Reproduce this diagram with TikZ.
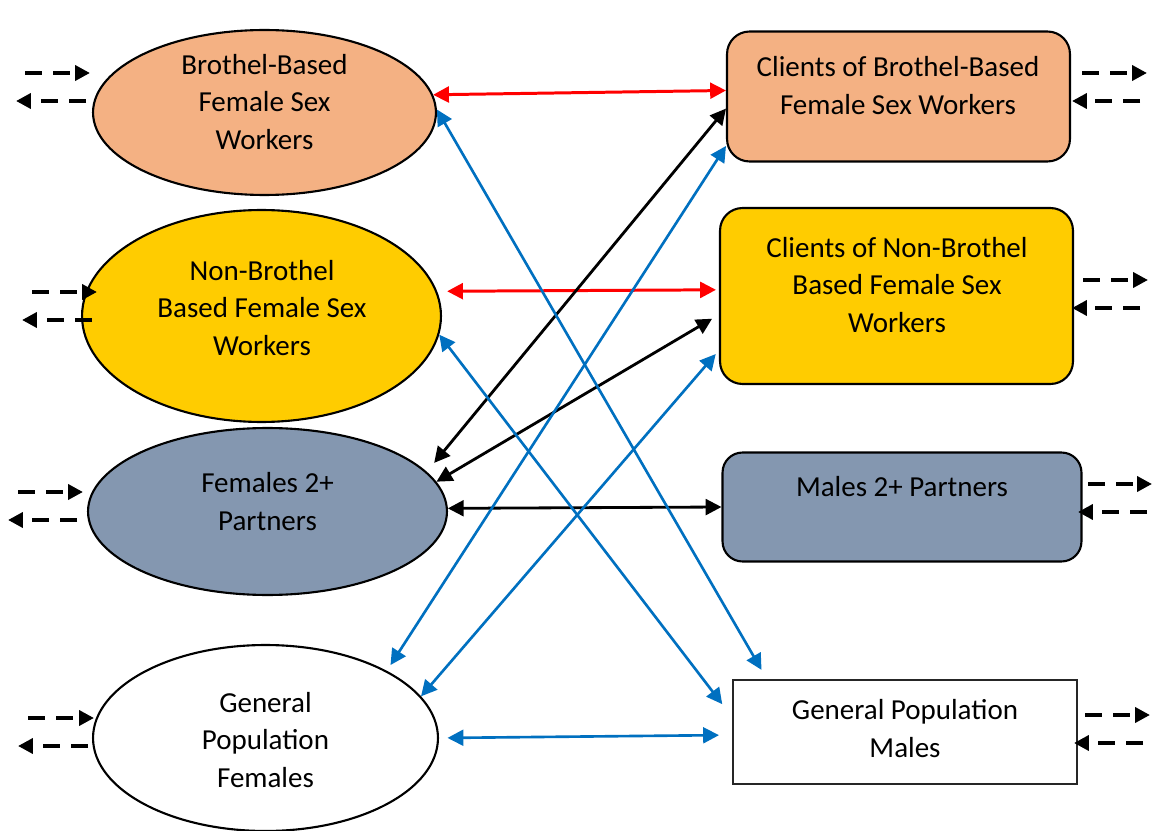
\documentclass[tikz,border=0pt]{standalone}
\usepackage{fontspec}
\setmainfont{Carlito}
\usetikzlibrary{arrows.meta,shapes.geometric}
\definecolor{orangefill}{HTML}{F4B183}
\definecolor{goldfill}{HTML}{FFCC00}
\definecolor{greyfill}{HTML}{8497B0}
\definecolor{bluec}{HTML}{0070C0}
\definecolor{redc}{HTML}{FF0000}
\tikzset{
  ell/.style={ellipse, draw=black, line width=1.2pt, inner sep=0pt},
  rbox/.style={rectangle, draw=black, line width=1.2pt, rounded corners=0.45cm, inner sep=0pt},
  sbox/.style={rectangle, draw=black!85, line width=1.2pt, inner sep=0pt},
  txt/.style={align=center, inner sep=0pt, font=\fontsize{16.5pt}{21.6pt}\selectfont},
  tip/.style={{Triangle[length=9pt,width=9pt]}-{Triangle[length=9pt,width=9pt]}},
  redlink/.style={tip, draw=redc, line width=1.7pt},
  blklink/.style={tip, draw=black, line width=1.6pt},
  blulink/.style={tip, draw=bluec, line width=1.5pt},
  sidearr/.style={draw=black, line width=2.4pt, dash pattern=on 9.5pt off 6.6pt, -{Triangle[length=8.5pt,width=8.5pt]}}
}
\begin{document}
\begin{tikzpicture}[x=0.02cm,y=-0.02cm]
\useasboundingbox[fill=white] (0,0) rectangle (1153,831);
% left ellipses
\node[ell, fill=orangefill, minimum width=6.86cm, minimum height=3.3cm] (bb) at (264.5,112.5) {};
\node[ell, fill=goldfill, minimum width=7.18cm, minimum height=4.24cm] (nb) at (261.5,316) {};
\node[ell, fill=greyfill, minimum width=7.18cm, minimum height=3.34cm] (f2) at (267.5,511.5) {};
\node[ell, fill=white, minimum width=6.9cm, minimum height=3.72cm] (gf) at (265.5,738) {};
% right boxes
\node[rbox, fill=orangefill, minimum width=6.86cm, minimum height=2.6cm] (cb) at (898.5,96.5) {};
\node[rbox, fill=goldfill, minimum width=7.06cm, minimum height=3.52cm] (cn) at (896.5,296) {};
\node[rbox, fill=greyfill, minimum width=7.18cm, minimum height=2.18cm, rounded corners=0.4cm] (m2) at (902,507) {};
\node[sbox, fill=white, minimum width=6.88cm, minimum height=2.08cm] (gm) at (905,732) {};
% texts
\node[txt] (bbt) at (264.5,102) {Brothel-Based\\Female Sex\\Workers};
\node[txt] (nbt) at (262,308) {Non-Brothel\\Based Female Sex\\Workers};
\node[txt] (f2t) at (267.5,502) {Females 2+\\Partners};
\node[txt] (gft) at (265.5,740) {General\\Population\\Females};
\node[txt] (cbt) at (898,86) {Clients of Brothel-Based\\Female Sex Workers};
\node[txt] (cnt) at (897,285) {Clients of Non-Brothel\\Based Female Sex\\Workers};
\node[txt] (m2t) at (902,487) {Males 2+ Partners};
\node[txt] (gmt) at (905,729) {General Population\\Males};
% connectors
\draw[redlink] (bb.6) -- (cb.178);
\draw[redlink, shorten <=0.2cm, shorten >=0.06cm] (nb.8) -- (cn.178);
\draw[blklink, shorten <=0.23cm] (f2.14) -- (cb.184.5);
\draw[blklink, shorten >=0.16cm] (f2.10) -- (cn.186);
\draw[blklink] (f2.1) -- (m2.west);
\draw[blulink, shorten >=0.21cm] (bb.1) -- (gm.159.6);
\draw[blulink, shorten >=0.32cm] (nb.-6) -- (gm.175.3);
\draw[blulink, shorten <=0.136cm] (gf.29.5) -- (cb.196);
\draw[blulink, shorten >=0.1cm] (gf.15) -- (cn.197.9);
\draw[blulink, shorten <=0.17cm, shorten >=0.26cm] (gf.0) -- (gm.181.6);
% side flows (free ends)
\coordinate (l1a) at (25,73);  \coordinate (l1b) at (90,73);
\coordinate (l1c) at (86,101); \coordinate (l1d) at (16,101);
\coordinate (l2a) at (32,292); \coordinate (l2b) at (97,292);
\coordinate (l2c) at (92,320); \coordinate (l2d) at (22,320);
\coordinate (l3a) at (18,492); \coordinate (l3b) at (83,492);
\coordinate (l3c) at (77,520); \coordinate (l3d) at (8,520);
\coordinate (l4a) at (28,718); \coordinate (l4b) at (94,718);
\coordinate (l4c) at (88,746); \coordinate (l4d) at (18,746);
\coordinate (r1a) at (1082,73);  \coordinate (r1b) at (1147,73);
\coordinate (r1c) at (1140,101); \coordinate (r1d) at (1072,101);
\coordinate (r2a) at (1083,280); \coordinate (r2b) at (1148,280);
\coordinate (r2c) at (1140,308); \coordinate (r2d) at (1072,308);
\coordinate (r3a) at (1088,484); \coordinate (r3b) at (1152,484);
\coordinate (r3c) at (1147,512); \coordinate (r3d) at (1078,512);
\coordinate (r4a) at (1085,715); \coordinate (r4b) at (1150,715);
\coordinate (r4c) at (1143,743); \coordinate (r4d) at (1074,743);
\foreach \s in {l1,l2,l3,l4,r1,r2,r3,r4}{
  \draw[sidearr] (\s a) -- (\s b);
  \draw[sidearr] (\s c) -- (\s d);
}
\end{tikzpicture}
\end{document}
